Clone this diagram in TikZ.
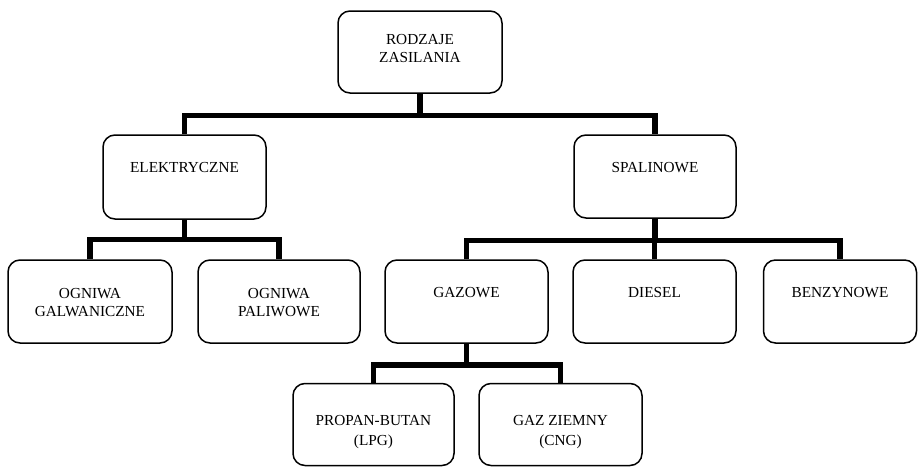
\documentclass[tikz,border=0pt]{standalone}
\usepackage{fontspec}
\setmainfont{Liberation Serif}
\begin{document}
\begin{tikzpicture}[x=1pt,y=-1pt,
  box/.style={draw=black,line width=1.5pt,rounded corners=12pt,minimum height=83pt,inner sep=0pt},
  txt/.style={align=center,inner sep=0pt,font=\fontsize{15.3}{18}\selectfont},
  conn/.style={line width=5.5pt,line join=miter,line cap=butt}]
\useasboundingbox (0,0) rectangle (918,466);
% boxes
\node[box,minimum width=164pt,minimum height=82pt] (root) at (420,52) {};
\node[box,minimum width=163pt,minimum height=84pt] (elek) at (184.5,177) {};
\node[box,minimum width=162pt] (spal) at (655,176.5) {};
\node[box,minimum width=164pt] (og) at (90,301.5) {};
\node[box,minimum width=162pt] (op) at (279,301.5) {};
\node[box,minimum width=163pt] (gaz) at (466.5,301.5) {};
\node[box,minimum width=163pt] (diesel) at (654.5,301.5) {};
\node[box,minimum width=153pt] (benz) at (840,301.5) {};
\node[box,minimum width=161pt,minimum height=82pt] (lpg) at (373.5,424.5) {};
\node[box,minimum width=163pt,minimum height=82pt] (cng) at (560.5,424.5) {};
% texts
\node[txt] (rootT) at (420,48.5) {RODZAJE\\ZASILANIA};
\node[txt] (elekT) at (184.5,168) {ELEKTRYCZNE};
\node[txt] (spalT) at (655,168) {SPALINOWE};
\node[txt] (ogT) at (90,302.5) {OGNIWA\\GALWANICZNE};
\node[txt] (opT) at (279,302.5) {OGNIWA\\PALIWOWE};
\node[txt] (gazT) at (466.5,293) {GAZOWE};
\node[txt] (dieselT) at (654.5,293) {DIESEL};
\node[txt] (benzT) at (840,293) {BENZYNOWE};
\node[txt,font=\fontsize{15.3}{20}\selectfont] (lpgT) at (373.5,432) {PROPAN-BUTAN\\(LPG)};
\node[txt,font=\fontsize{15.3}{20}\selectfont] (cngT) at (560.5,432) {GAZ ZIEMNY\\(CNG)};
% connectors
\draw[conn] (root.south) -- ++(0,23);
\draw[conn] (elek.north) -- ++(0,-19) -| (spal.north);
\draw[conn] (elek.south) -- ++(0,21);
\draw[conn] (og.north) -- ++(0,-20) -| (op.north);
\draw[conn] (spal.south) -- ++(0,23.5);
\draw[conn] (gaz.north) -- ++(0,-19) -| (benz.north);
\draw[conn] (diesel.north) -- ++(0,-19);
\draw[conn] (gaz.south) -- ++(0,22);
\draw[conn] (lpg.north) -- ++(0,-18) -| (cng.north);
\end{tikzpicture}
\end{document}
